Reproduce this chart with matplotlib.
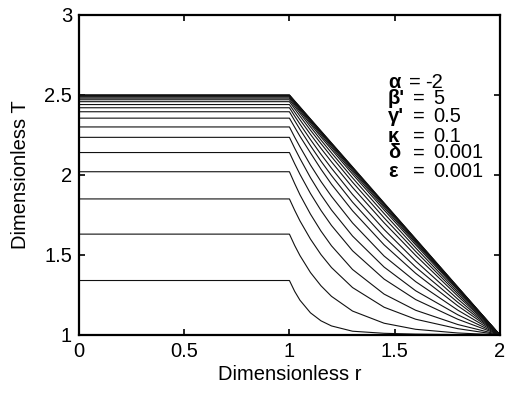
import numpy as np
import matplotlib
matplotlib.use('Agg')
import matplotlib.pyplot as plt

plt.rcParams['font.family'] = ['Liberation Sans', 'DejaVu Sans']

# flat part r in [0, 1] at level T0, then the drop towards T=1 at r=2
r_flat = [0.0, 1.0]
r_drop = [1.025, 1.05, 1.1, 1.15, 1.2, 1.3, 1.45, 1.6, 1.8, 2.0]

T0 = [1.34, 1.63, 1.85, 2.02, 2.14, 2.235, 2.30, 2.355, 2.395, 2.42,
      2.44, 2.458, 2.47, 2.48, 2.487, 2.492, 2.495, 2.497, 2.499, 2.5]

T_drop = [
    [1.272, 1.217, 1.138, 1.088, 1.056, 1.023, 1.010, 1.005, 1.002, 1.0],
    [1.559, 1.496, 1.390, 1.307, 1.241, 1.149, 1.073, 1.035, 1.012, 1.0],
    [1.779, 1.713, 1.599, 1.502, 1.421, 1.296, 1.173, 1.098, 1.039, 1.0],
    [1.946, 1.876, 1.755, 1.649, 1.557, 1.409, 1.255, 1.154, 1.065, 1.0],
    [2.070, 2.004, 1.884, 1.778, 1.684, 1.526, 1.349, 1.221, 1.098, 1.0],
    [2.167, 2.103, 1.983, 1.876, 1.781, 1.618, 1.424, 1.276, 1.126, 1.0],
    [2.236, 2.176, 2.062, 1.959, 1.866, 1.700, 1.493, 1.333, 1.155, 1.0],
    [2.298, 2.242, 2.138, 2.036, 1.942, 1.776, 1.563, 1.385, 1.182, 1.0],
    [2.339, 2.285, 2.183, 2.086, 1.996, 1.830, 1.613, 1.424, 1.204, 1.0],
    [2.368, 2.318, 2.221, 2.129, 2.042, 1.878, 1.659, 1.462, 1.224, 1.0],
    [2.392, 2.345, 2.254, 2.166, 2.082, 1.922, 1.701, 1.497, 1.243, 1.0],
    [2.413, 2.368, 2.280, 2.196, 2.114, 1.955, 1.732, 1.522, 1.257, 1.0],
    [2.428, 2.386, 2.301, 2.218, 2.138, 1.982, 1.759, 1.544, 1.269, 1.0],
    [2.439, 2.398, 2.317, 2.237, 2.159, 2.005, 1.781, 1.563, 1.280, 1.0],
    [2.447, 2.407, 2.328, 2.249, 2.172, 2.019, 1.795, 1.574, 1.286, 1.0],
    [2.453, 2.414, 2.336, 2.259, 2.182, 2.030, 1.805, 1.583, 1.291, 1.0],
    [2.457, 2.418, 2.342, 2.265, 2.190, 2.038, 1.814, 1.590, 1.295, 1.0],
    [2.459, 2.421, 2.346, 2.270, 2.195, 2.044, 1.820, 1.596, 1.297, 1.0],
    [2.461, 2.424, 2.348, 2.273, 2.198, 2.048, 1.823, 1.599, 1.299, 1.0],
    [2.4625, 2.425, 2.350, 2.275, 2.200, 2.050, 1.825, 1.600, 1.300, 1.0],
]

param_syms = ['α', "β'", "γ'", 'κ', 'δ', 'ε']
param_vals = ['-2', '5', '0.5', '0.1', '0.001', '0.001']

fs = 14.5

fig = plt.figure(figsize=(5.1, 3.94), dpi=100)
ax = fig.add_axes([0.155, 0.150, 0.825, 0.812])

for t0, td in zip(T0, T_drop):
    r = r_flat + r_drop
    T = [t0, t0] + td
    ax.plot(r, T, color='#111111', lw=0.8)

ax.set_xlim(0, 2)
ax.set_ylim(1, 3)
ax.set_xticks([0, 0.5, 1, 1.5, 2])
ax.set_xticklabels(['0', '0.5', '1', '1.5', '2'])
ax.set_yticks([1, 1.5, 2, 2.5, 3])
ax.set_yticklabels(['1', '1.5', '2', '2.5', '3'])
ax.tick_params(direction='in', top=True, right=True, length=4, width=1.2,
               labelsize=fs, pad=5)
for s in ax.spines.values():
    s.set_linewidth(1.6)

ax.set_xlabel('Dimensionless r', fontsize=fs, labelpad=3)
ax.set_ylabel('Dimensionless T', fontsize=fs, labelpad=10)

# parameter block in the upper right
y_text = [2.577, 2.479, 2.364, 2.239, 2.1375, 2.021]
for i, (sym, val) in enumerate(zip(param_syms, param_vals)):
    yy = y_text[i]
    ax.text(1.468, yy, sym, fontsize=fs, fontweight='bold', va='center', ha='left')
    xe = 1.568 if i == 0 else 1.587
    xv = 1.644 if i == 0 else 1.682
    ax.text(xe, yy, '=', fontsize=fs, va='center', ha='left')
    ax.text(xv, yy, val, fontsize=fs, va='center', ha='left')

fig.savefig('out.png', dpi=100)
